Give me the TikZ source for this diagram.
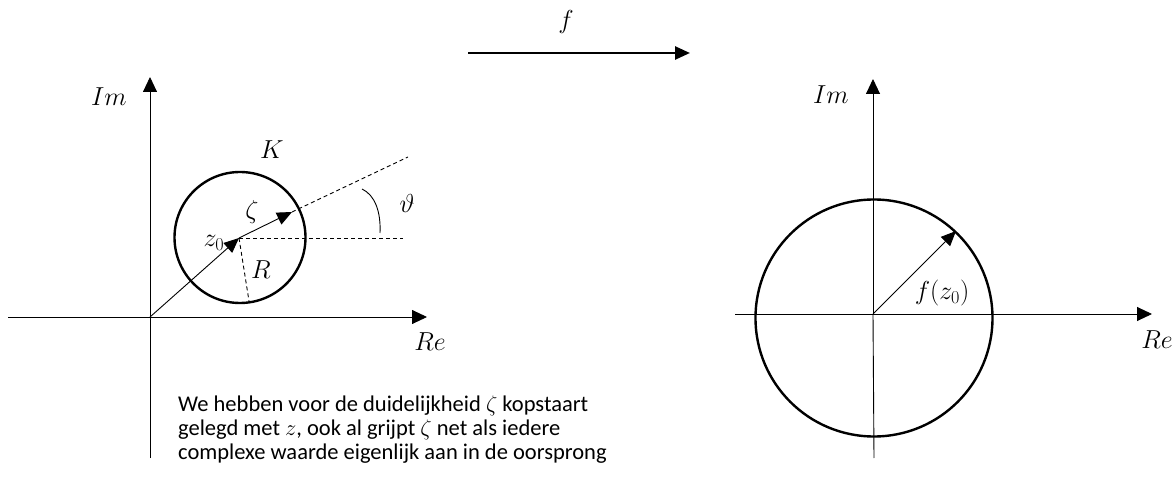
\RequirePackage{fix-cm}
\documentclass[tikz,border=0pt]{standalone}
\usepackage{fontspec}
\setmainfont{Carlito}
\usetikzlibrary{arrows.meta}
\begin{document}
\begin{tikzpicture}[x=1pt,y=-1pt,
  axis/.style={line width=0.9pt,-{Triangle[length=15pt,width=14pt]}},
  plainaxis/.style={line width=0.9pt},
  vec/.style={line width=0.9pt,-{Triangle[length=15pt,width=13pt]}},
  thick circle/.style={line width=2.4pt},
  dash line/.style={line width=0.9pt,dash pattern=on 4pt off 3pt},
  lab/.style={inner sep=0pt,font=\fontsize{26}{30}\selectfont},
  txt/.style={inner sep=0pt,align=left,font=\fontsize{22.5}{23.6}\selectfont}]
\useasboundingbox (0,0) rectangle (1176,481);
% ---------- left plane ----------
\coordinate (O1) at (150,317);
\coordinate (ImTop1) at (150,77);
\coordinate (ImBot1) at (150,458);
\coordinate (ReL1) at (8,317);
\coordinate (ReR1) at (427,317);
\coordinate (z0) at (239,238);
\coordinate (zeta) at (292,212);
\coordinate (rayEnd) at (408,157);
\coordinate (horEnd) at (403,238);
\coordinate (Rend) at (249,301);
\coordinate (arcA) at (362,189);
\coordinate (arcB) at (380,233);
\draw[plainaxis] (ImBot1) -- (O1);
\draw[axis] (O1) -- (ImTop1);
\draw[plainaxis] (ReL1) -- (O1);
\draw[axis] (O1) -- (ReR1);
\draw[thick circle] (240,237.5) circle (65.5);
\draw[vec] (O1) -- (z0);
\draw[vec] (z0) -- (zeta);
\draw[dash line] (zeta) -- (rayEnd);
\draw[dash line] (z0) -- (horEnd);
\draw[dash line] (z0) -- (Rend);
\draw[line width=0.9pt] (arcA) .. controls (375,195) and (381,212) .. (arcB);
\node[lab] (Im1) at (109,97) {$Im$};
\node[lab] (Re1) at (430,342) {$Re$};
\node[lab] (K) at (272,150) {$K$};
\node[lab] (z0lab) at (214,243) {$z_0$};
\node[lab] (zetalab) at (252,212) {$\zeta$};
\node[lab] (Rlab) at (261,270) {$R$};
\node[lab] (thetalab) at (407,203) {$\vartheta$};
\node[txt,anchor=base west] (note) at (178,459) {We hebben voor de duidelijkheid $\zeta$ kopstaart\\gelegd met $z$, ook al grijpt $\zeta$ net als iedere\\complexe waarde eigenlijk aan in de oorsprong};
% ---------- mapping arrow ----------
\coordinate (fA) at (468,53);
\coordinate (fB) at (690,53);
\draw[line width=2.6pt,-{Triangle[length=15pt,width=13pt]}] (fA) -- (fB);
\node[lab] (flab) at (566,22) {$f$};
% ---------- right plane ----------
\coordinate (O2) at (873,314);
\coordinate (ImTop2) at (873,79);
\coordinate (ImBot2) at (874,458);
\coordinate (ReL2) at (735,314);
\coordinate (ReR2) at (1152,314);
\coordinate (fz) at (956,231);
\draw[plainaxis] (ImBot2) -- (O2);
\draw[axis] (O2) -- (ImTop2);
\draw[plainaxis] (ReL2) -- (O2);
\draw[axis] (O2) -- (ReR2);
\draw[thick circle] (874,318) circle (118.5);
\draw[vec] (O2) -- (fz);
\node[lab] (Im2) at (831,95) {$Im$};
\node[lab] (Re2) at (1157,340) {$Re$};
\node[lab] (fzlab) at (942,293) {$f(z_0)$};
\end{tikzpicture}
\end{document}
